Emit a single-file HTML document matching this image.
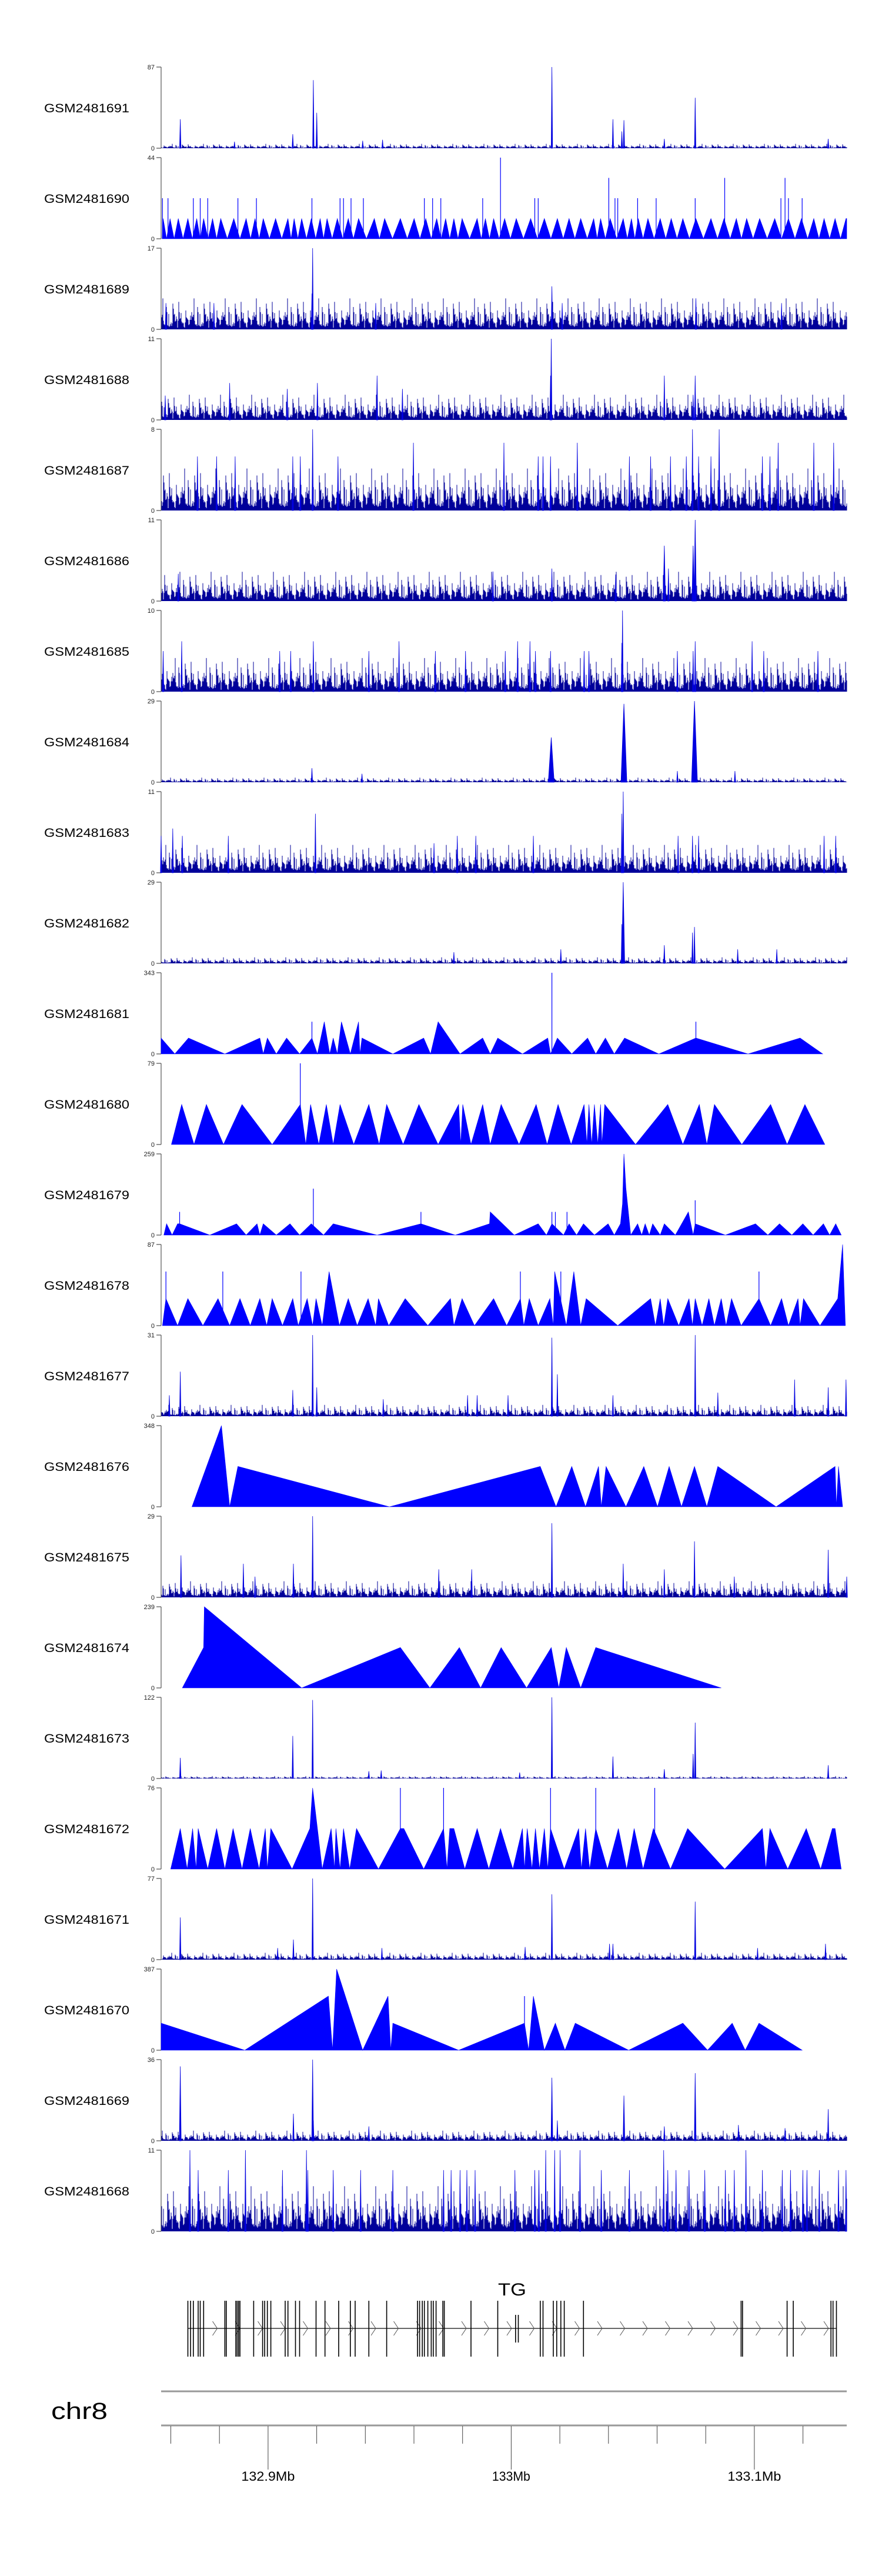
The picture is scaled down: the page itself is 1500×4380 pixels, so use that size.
<!DOCTYPE html>
<html><head><meta charset="utf-8"><title>ChIP-seq coverage tracks around TG, chr8</title>
<style>html,body{margin:0;padding:0;background:#fff}svg{display:block}</style></head>
<body>
<svg id="chart" xmlns="http://www.w3.org/2000/svg" width="1500" height="4380" viewBox="0 0 1500 4380" font-family="Liberation Sans, Arial, sans-serif"></svg>
<script>
// ---------- data ----------
const sampleNames = ["GSM2481691","GSM2481690","GSM2481689","GSM2481688","GSM2481687","GSM2481686","GSM2481685","GSM2481684","GSM2481683","GSM2481682","GSM2481681","GSM2481680","GSM2481679","GSM2481678","GSM2481677","GSM2481676","GSM2481675","GSM2481674","GSM2481673","GSM2481672","GSM2481671","GSM2481670","GSM2481669","GSM2481668"];
const yMax = [87,44,17,11,8,11,10,29,11,29,343,79,259,87,31,348,29,239,122,76,77,387,36,11];
const trackType = ["spiky","peaks","spiky","spiky","spiky","spiky","spiky","spiky","spiky","spiky","tri","tri","tri","tri","spiky","tri","spiky","tri","spiky","tri","spiky","tri","spiky","spiky"];
const noiseLevel = [2.6,0,3.6,1.9,2.3,2.2,2.3,0.9,2.1,1.2,0,0,0,0,2.4,0,3.2,0,2,0,3.6,0,2.5,3.4];
const noiseTexture = [0.35,0.9,0.2,0.55,1.0,0.3,0.7,0.15,0.45,1.3,0.25,0.6,0.4,0.85,0.1,0.5,1.0,0.3,0.65,0.2,1.8,0.4,0.75,0.25,0.55,0.95,0.35,0.5,1.1,0.6,0.2,0.8,0.45,1.5,0.3,0.7,0.1,0.9,0.55,0.35,1.2,0.25,0.65,0.5,0.15,1.0,0.4,0.85,0.3,0.6,1.6,0.2,0.75];

// peak positions are per-mille of the genomic window (132.856 - 133.138 Mb)
const pk0Pos=[28,192,222,227,570,659,675,672,734,779,973,107,294,323];
const pk0Val=[31,15,73,38,87,31,30,18,10,54,10,7,8,9];
const pk2Pos=[221,220,570,585,780,7,77,905,313];
const pk2Val=[17,7.5,9,5.5,6.5,5.5,5.5,5.5,5.5];
const pk3Pos=[569,568,100,184,228,315,352,734,779,776,6];
const pk3Val=[11,6,5,4.2,5,6,4.2,6,6,3.4,3.3];
const pk4Pos=[221,368,500,607,775,814,900,952,981,53,81,108,192,203,258,550,557,568,683,714,743,766,784,802,877,888];
const pk4Val=[8,6.67,6.67,6.67,8,8,6.67,6.67,6.67,5.33,5.33,5.33,5.33,5.33,5.33,5.33,5.33,5.33,5.33,5.33,5.33,5.33,5.33,5.33,5.33,5.33];
const pk5Pos=[779,776,734,740,570,484,25,663];
const pk5Val=[11,7.5,7.5,4.4,4.4,4,3.7,3.6];
const pk6Pos=[673,672,779,776,30,222,347,520,538,862,958,3,173,189,303,400,444,502,546,568,617,624,753,879];
const pk6Val=[10,6,6.2,5,6.2,6.2,6.2,6.2,6.2,6.2,5,5,5,5,5,5,5,5,5,5,5,5,5,5];
const pk7Pos=[675,778,569,220,753,837,293];
const pk7Val=[28,29,16,5,4,4,3];
const pk8Pos=[674,672,225,17,0,31,98,543,754,775,784,967,984,398,459,432];
const pk8Val=[11,8,8,6,5,5,5,5,5,5,5,5,5,4,5,5];
const pk9Pos=[674,672,778,775,734,841,898,583,427];
const pk9Val=[29,14,13,11,6.5,5,5,5,4];
const pk14Pos=[28,12,192,221,227,570,578,506,447,461,659,779,812,924,973,999,324];
const pk14Val=[17,8,10,31,11,30,16,8,8,8,8,31,9,14,11,14,6.5];
const pk16Pos=[221,570,29,120,193,674,778,973,405,453,734,137,836,1000];
const pk16Val=[29,26.5,15,12,12,12,20,17,10,10,10,7.4,7.4,7.4];
const pk18Pos=[221,570,192,28,659,779,776,973,734,523,303,321];
const pk18Val=[118,122,64,31,33,84,37,20,14,9,11,12];
const pk20Pos=[221,570,779,28,193,654,659,969,870,322,531,170];
const pk20Val=[77,62,55,40,19,15,15,15,11,11,12,11];
const pk22Pos=[28,221,193,570,675,779,973,734,842,910,303,578,222];
const pk22Val=[33,36,12,28,20,30,14,6.4,7,5.6,6.4,9,9];
const pk23Pos=[42,123,212,561,574,582,611,733,853,54,98,177,214,251,291,338,412,423,436,446,458,516,545,551,642,683,739,751,770,793,823,836,877,906,918,936,942,960,988,999];
const pk23Val=[11,11,11,11,11,11,11,11,11,8.3,8.3,8.3,8.3,8.3,8.3,8.3,8.3,8.3,8.3,8.3,8.3,8.3,8.3,8.3,8.3,8.3,8.3,8.3,8.3,8.3,8.3,8.3,8.3,8.3,8.3,8.3,8.3,8.3,8.3,8.3];

// track GSM2481690: many small triangles
const tri1PeakPos=[3,13,25,39,52,62,75,87,106,124,137,149,167,185,194,205,219,232,242,257,273,288,311,326,349,369,386,402,415,427,439,461,473,485,501,518,539,559,578,595,612,631,641,655,674,686,696,710,728,744,761,780,802,821,839,854,873,895,915,934,952,967,983,999];
const tri1PeakVal=11;
const spk1Pos=[2,10,47,57,68,112,139,220,261,266,277,295,384,396,408,469,545,550,662,666,695,722,779,904,915,935,653,822,910,495];
const spk1Val=[22,22,22,22,22,22,22,22,22,22,22,22,22,22,22,22,22,22,22,22,22,22,22,22,22,22,33,33,33,44];

const tri10Pos=[0,20,40,93,144,149,155,168,183,202,220,228,238,246,251,257,263,276,288,290,293,338,383,393,404,436,469,480,491,527,564,568,578,599,622,634,648,661,676,726,780,856,932,965];
const tri10Val=[67,0,67,0,67,0,67,0,67,0,67,0,136,0,67,0,136,0,136,0,67,0,67,0,136,0,67,0,67,0,67,0,67,0,67,0,67,0,67,0,67,0,67,0];
const spk10Pos=[220,570,780]; const spk10Val=[136,343,136];

const tri11Pos=[15,30,48,66,91,118,162,203,211,218,230,241,251,261,281,303,318,329,353,376,404,434,437,440,452,469,480,496,522,547,563,579,598,617,621,624,628,632,637,641,643,647,692,739,761,785,796,807,847,889,913,939,968];
const tri11Val=[0,39,0,39,0,39,0,39,0,39,0,39,0,39,0,39,0,39,0,39,0,39,0,39,0,39,0,39,0,39,0,39,0,39,0,39,0,39,0,39,0,39,0,39,0,39,0,39,0,39,0,39,0];
const spk11Pos=[203]; const spk11Val=[79];

const tri12Pos=[4,8,16,24,27,71,110,124,140,144,149,168,188,202,219,237,251,315,379,429,479,480,515,550,562,570,587,595,606,616,632,652,661,670,673,675,678,685,695,701,706,712,717,728,734,750,769,776,779,823,867,885,902,920,936,951,966,975,984,992];
const tri12Val=[0,36,0,36,36,0,36,0,36,0,36,0,36,0,36,0,36,0,36,0,36,74,0,36,0,36,0,36,0,36,0,36,0,36,100,259,150,0,36,0,36,0,36,0,36,0,74,0,36,0,36,0,36,0,36,0,36,0,36,0];
const spk12Pos=[27,222,379,570,575,592,779]; const spk12Val=[74,148,74,74,74,74,111];

const tri13Pos=[2,7,24,39,61,83,100,115,130,144,154,162,177,192,200,213,221,226,235,245,260,273,286,302,313,317,332,356,389,422,427,439,457,485,504,524,529,537,550,567,572,574,591,602,612,620,666,714,721,728,733,739,755,770,775,779,789,799,807,817,824,832,846,872,889,905,915,929,932,937,961,987,994,998];
const tri13Val=[0,29,0,29,0,29,0,29,0,29,0,29,0,29,0,29,0,29,0,58,0,29,0,29,0,29,0,29,0,29,0,29,0,29,0,29,0,29,0,29,0,58,0,58,0,29,0,29,0,29,0,29,0,29,0,29,0,29,0,29,0,29,0,29,0,29,0,29,0,29,0,29,87,0];
const spk13Pos=[7,90,204,524,583,872]; const spk13Val=[58,58,58,58,58,58];

const tri15Pos=[45,88,100,112,333,553,576,599,619,638,642,649,678,704,724,741,759,778,796,812,897,983,985,988,994];
const tri15Val=[0,348,0,173,0,173,0,173,0,173,0,173,0,173,0,173,0,173,0,173,0,173,0,173,0];
const spk15Pos=[]; const spk15Val=[];

const tri17Pos=[31,62,63,205,349,392,435,466,496,533,569,580,591,612,634,817];
const tri17Val=[0,119,239,0,119,0,119,0,119,0,119,0,119,0,119,0];
const spk17Pos=[]; const spk17Val=[];

const tri19Pos=[14,28,38,46,51,54,68,81,93,105,118,130,143,152,155,160,191,217,221,235,248,253,255,261,266,275,285,317,349,354,383,412,417,421,427,443,461,478,495,513,527,530,534,541,546,552,559,564,568,588,609,613,619,625,634,651,667,679,690,703,718,743,768,822,877,882,888,914,941,962,979,983,992];
const tri19Val=[0,38,0,38,0,38,0,38,0,38,0,38,0,38,0,38,0,38,76,0,38,0,38,0,38,0,38,0,38,38,0,38,0,38,38,0,38,0,38,0,38,0,38,0,38,0,38,0,38,0,38,0,38,0,38,0,38,0,38,0,38,0,38,0,38,0,38,0,38,0,38,38,0];
const spk19Pos=[349,412,568,634,720]; const spk19Val=[76,76,76,76,76];

const tri21Pos=[0,122,244,250,256,294,331,335,338,434,530,536,543,559,575,589,604,682,761,797,833,852,872,935];
const tri21Val=[129,0,258,0,387,0,258,0,129,0,129,0,258,0,129,0,129,0,129,0,129,0,129,0];
const spk21Pos=[530]; const spk21Val=[258];

// gene model TG (per-mille positions)
const exonPos=[39,43,47,54,57,62,93,95,109,111,113,115,135,148,151,155,160,181,185,196,202,226,239,259,276,283,303,329,374,377,381,384,389,394,397,401,411,413,452,491,517,521,553,557,572,577,583,588,616,846,848,913,922,977,980,985];
const shortExon=[517,521];
const geneStartPm=39, geneEndPm=985;
// axis
const windowStartMb=132.856, windowEndMb=133.138;
const minorTicksMb=[132.86,132.88,132.90,132.92,132.94,132.96,132.98,133.00,133.02,133.04,133.06,133.08,133.10,133.12];
const majorTicksMb=[132.9,133.0,133.1];
const majorTickLabels=["132.9Mb","133Mb","133.1Mb"];

const peaks = {0:[pk0Pos,pk0Val],2:[pk2Pos,pk2Val],3:[pk3Pos,pk3Val],4:[pk4Pos,pk4Val],5:[pk5Pos,pk5Val],6:[pk6Pos,pk6Val],7:[pk7Pos,pk7Val],8:[pk8Pos,pk8Val],9:[pk9Pos,pk9Val],14:[pk14Pos,pk14Val],16:[pk16Pos,pk16Val],18:[pk18Pos,pk18Val],20:[pk20Pos,pk20Val],22:[pk22Pos,pk22Val],23:[pk23Pos,pk23Val]};
const tris = {10:[tri10Pos,tri10Val,spk10Pos,spk10Val],11:[tri11Pos,tri11Val,spk11Pos,spk11Val],12:[tri12Pos,tri12Val,spk12Pos,spk12Val],13:[tri13Pos,tri13Val,spk13Pos,spk13Val],15:[tri15Pos,tri15Val,spk15Pos,spk15Val],17:[tri17Pos,tri17Val,spk17Pos,spk17Val],19:[tri19Pos,tri19Val,spk19Pos,spk19Val],21:[tri21Pos,tri21Val,spk21Pos,spk21Val]};

// ---------- layout ----------
const NS="http://www.w3.org/2000/svg";
const svg=document.getElementById('chart');
const X0=274, X1=1440, TOP0=114, PITCH=154, TH=138;
const peakHalf={7:5,9:2.5,5:2,22:1.5};
function xPm(pm){return X0+pm*(X1-X0)/1000;}
function xMb(mb){return xPm((mb-windowStartMb)/(windowEndMb-windowStartMb)*1000);}
function mk(tag,attrs,parent){const e=document.createElementNS(NS,tag);for(const k in attrs)e.setAttribute(k,attrs[k]);(parent||svg).appendChild(e);return e;}
function f(n){return Math.round(n*10)/10;}

for(let i=0;i<sampleNames.length;i++){
  const top=TOP0+i*PITCH, base=top+TH, mx=yMax[i];
  const yv=v=>base-(Math.min(v,mx)/mx)*TH;
  const g=mk('g',{});
  
  
  const lab=mk('text',{x:75,y:top+TH/2+8,'font-size':21,textLength:145,lengthAdjust:'spacingAndGlyphs',fill:'#000'},g);
  lab.textContent=sampleNames[i];
  
  
  const ax=mk('path',{d:`M${X0} ${top}V${base}M${X0-8} ${top}H${X0}M${X0-8} ${base}H${X0}`,stroke:'#555','stroke-width':1.2,fill:'none'},g);
  
  
  const t1=mk('text',{x:X0-11,y:top+4,'font-size':11,'text-anchor':'end',fill:'#222'},g);
  t1.textContent=String(mx);
  
  
  const t0=mk('text',{x:X0-11,y:base+4,'font-size':11,'text-anchor':'end',fill:'#222'},g);
  t0.textContent='0';
  
  

  if(trackType[i]==='spiky'){
    let d='';let k=0;
    for(let x=X0+1;x<=X1;x+=1,k++){
      const v=noiseLevel[i]*noiseTexture[(k*7+i*3)%noiseTexture.length];
      d+=`M${x} ${base}V${f(yv(v))}`;
    }
    const np=mk('path',{d:d,stroke:'#00009a','stroke-width':1,fill:'none'},g);
    
    
    const [pp,pv]=peaks[i]; const hw=peakHalf[i]||1.2;
    for(let j=0;j<pp.length;j++){
      const x=xPm(pp[j]);
      const w=pv[j]>mx*0.5?hw:1.2;
      const p=mk('polygon',{points:`${f(x-w)},${base} ${f(x)},${f(yv(pv[j]))} ${f(x+w)},${base}`,fill:'#0000e0',stroke:'#0000e0','stroke-width':0.8},g);
      
      
    }
  } else {
    let pts=[],sp=[],sv=[];
    if(trackType[i]==='peaks'){
      for(let j=0;j<tri1PeakPos.length;j++){
        const prev=j?tri1PeakPos[j-1]:0;
        pts.push([(prev+tri1PeakPos[j])/2,0]);pts.push([tri1PeakPos[j],tri1PeakVal]);
      }
      pts.push([1000,tri1PeakVal]);
      sp=spk1Pos;sv=spk1Val;
    } else {
      const [tp,tv,a,b]=tris[i];
      for(let j=0;j<tp.length;j++)pts.push([tp[j],tv[j]]);
      sp=a;sv=b;
    }
    let s=`${f(xPm(pts[0][0]))},${base} `+pts.map(q=>`${f(xPm(q[0]))},${f(yv(q[1]))}`).join(' ')+` ${f(xPm(pts[pts.length-1][0]))},${base}`;
    const poly=mk('polygon',{points:s,fill:'#0000ff',stroke:'#0000ff','stroke-width':0.6},g);
    
    
    let d='';
    for(let j=0;j<sp.length;j++){const x=f(xPm(sp[j]));d+=`M${x} ${base}V${f(yv(sv[j]))}`;}
    if(d){const sl=mk('path',{d:d,stroke:'#0000ff','stroke-width':1.2,fill:'none'},g);
      
      }
  }
}

// ---------- gene track ----------
const gg=mk('g',{});


const gl=mk('text',{x:871,y:3903,'font-size':30,'text-anchor':'middle',textLength:48,lengthAdjust:'spacingAndGlyphs',fill:'#000'},gg);
gl.textContent='TG';


const gy=3959;
const intron=mk('path',{d:`M${f(xPm(geneStartPm))} ${gy}H${f(xPm(geneEndPm))}`,stroke:'#333','stroke-width':1.5},gg);


let ch='';
for(let x=xPm(geneStartPm)+42;x<xPm(geneEndPm)-10;x+=38.5){ch+=`M${f(x)} ${gy-12}L${f(x+8)} ${gy}L${f(x)} ${gy+12}`;}
const chev=mk('path',{d:ch,stroke:'#555','stroke-width':1,fill:'none'},gg);


let ed='';
for(const p of exonPos){const x=f(xPm(p));
  if(shortExon.includes(p))ed+=`M${x} 3936V3983`;else ed+=`M${x} 3912V4007`;}
const ex=mk('path',{d:ed,stroke:'#000','stroke-width':1.6,fill:'none'},gg);



// ---------- chromosome axis ----------
const ag=mk('g',{});


const cl=mk('text',{x:87,y:4113,'font-size':40,textLength:96,lengthAdjust:'spacingAndGlyphs',fill:'#000'},ag);
cl.textContent='chr8';


const l1=mk('path',{d:`M${X0} 4066H${X1}`,stroke:'#999','stroke-width':3},ag);


const l2=mk('path',{d:`M${X0} 4124H${X1}`,stroke:'#999','stroke-width':3},ag);


let td='';
for(const m of minorTicksMb){const x=f(xMb(m));const major=majorTicksMb.some(q=>Math.abs(q-m)<1e-6);td+=`M${x} 4125V${major?4199:4155}`;}
const tk=mk('path',{d:td,stroke:'#444','stroke-width':1},ag);


for(let j=0;j<majorTicksMb.length;j++){
  const t=mk('text',{x:f(xMb(majorTicksMb[j])),y:4218,'font-size':22,'text-anchor':'middle',textLength:majorTickLabels[j].length*13,lengthAdjust:'spacingAndGlyphs',fill:'#000'},ag);
  t.textContent=majorTickLabels[j];
  
  
}
</script>
</body></html>
